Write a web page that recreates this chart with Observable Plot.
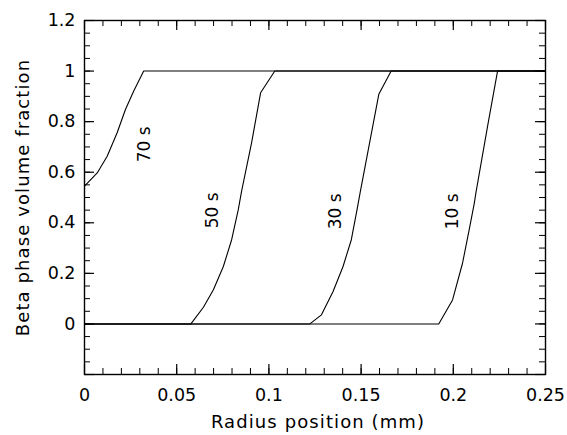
<!DOCTYPE html>
<html>
<head>
<meta charset="utf-8">
<script src="https://cdn.jsdelivr.net/npm/d3@7"></script>
<script src="https://cdn.jsdelivr.net/npm/@observablehq/plot@0.6"></script>
<style>
  html, body { margin: 0; padding: 0; background: #fff; }
</style>
</head>
<body>
<div id="chart"></div>
<script>
// Series (radius in mm, beta-phase volume fraction)
const x10 = [0, 0.1921, 0.1996, 0.2050, 0.2086, 0.2114, 0.2123, 0.2186, 0.2240, 0.25];
const y10 = [0, 0, 0.095, 0.240, 0.372, 0.478, 0.520, 0.782, 1.0, 1.0];

const x30 = [0, 0.1222, 0.1285, 0.1348, 0.1402, 0.1447, 0.1478, 0.1495, 0.1546, 0.1596, 0.1663, 0.25];
const y30 = [0, 0, 0.036, 0.128, 0.227, 0.333, 0.452, 0.520, 0.716, 0.908, 1.0, 1.0];

const x50 = [0, 0.0577, 0.0645, 0.0699, 0.0753, 0.0798, 0.0834, 0.0852, 0.0906, 0.0955, 0.1032, 0.25];
const y50 = [0, 0, 0.066, 0.135, 0.227, 0.333, 0.452, 0.525, 0.716, 0.914, 1.0, 1.0];

const x70 = [0, 0.0069, 0.0123, 0.0177, 0.0222, 0.0267, 0.0321, 0.25];
const y70 = [0.545, 0.597, 0.663, 0.756, 0.848, 0.921, 1.0, 1.0];

const seriesNames = ["10 s", "30 s", "50 s", "70 s"];
const labelX = [0.1998, 0.1364, 0.0697, 0.0325];
const labelY = [0.445, 0.445, 0.449, 0.71];

const xTickValues = [0, 0.05, 0.1, 0.15, 0.2, 0.25];
const xTickLabels = ["0", "0.05", "0.1", "0.15", "0.2", "0.25"];
const xMinorTicks = d3.range(0, 26).map(i => i / 100);
const yTickValues = [0, 0.2, 0.4, 0.6, 0.8, 1, 1.2];
const yTickLabels = ["0", "0.2", "0.4", "0.6", "0.8", "1", "1.2"];
const yMajorTicks = [-0.2, 0, 0.2, 0.4, 0.6, 0.8, 1, 1.2];
const yMinorTicks = d3.range(-4, 25).map(i => i / 20);

const xTitle = "Radius position (mm)";
const yTitle = "Beta phase volume fraction";

const curves = [[x10, y10], [x30, y30], [x50, y50], [x70, y70]];
const lineData = curves.flatMap(([xs, ys], k) =>
  xs.map((x, i) => ({series: seriesNames[k], x, y: ys[i]})));
const labelData = seriesNames.map((name, i) => ({name, x: labelX[i], y: labelY[i]}));

const W = 567, H = 435;
const mTop = 20, mBottom = 61, mLeft = 84, mRight = 22;
const innerH = H - mTop - mBottom;
const innerW = W - mLeft - mRight;
const majorLen = 10, minorLen = 6;

const chart = Plot.plot({
  width: W,
  height: H,
  marginTop: mTop,
  marginBottom: mBottom,
  marginLeft: mLeft,
  marginRight: mRight,
  style: {fontFamily: "DejaVu Sans", fontSize: "17.5px", color: "black", background: "white"},
  x: {domain: [0, 0.25]},
  y: {domain: [-0.2, 1.2]},
  marks: [
    // inward ticks (bottom / top)
    Plot.ruleX(xMinorTicks, {x: d => d, insetTop: innerH - minorLen, stroke: "black", strokeWidth: 1}),
    Plot.ruleX(xMinorTicks, {x: d => d, insetBottom: innerH - minorLen, stroke: "black", strokeWidth: 1}),
    Plot.ruleX(xTickValues, {x: d => d, insetTop: innerH - majorLen, stroke: "black", strokeWidth: 1.2}),
    Plot.ruleX(xTickValues, {x: d => d, insetBottom: innerH - majorLen, stroke: "black", strokeWidth: 1.2}),
    // inward ticks (left / right)
    Plot.ruleY(yMinorTicks, {y: d => d, insetRight: innerW - minorLen, stroke: "black", strokeWidth: 1}),
    Plot.ruleY(yMinorTicks, {y: d => d, insetLeft: innerW - minorLen, stroke: "black", strokeWidth: 1}),
    Plot.ruleY(yMajorTicks, {y: d => d, insetRight: innerW - majorLen, stroke: "black", strokeWidth: 1.2}),
    Plot.ruleY(yMajorTicks, {y: d => d, insetLeft: innerW - majorLen, stroke: "black", strokeWidth: 1.2}),
    Plot.axisX({ticks: xTickValues, tickSize: 0, tickPadding: 14, tickFormat: (d, i) => xTickLabels[i], label: null}),
    Plot.axisY({ticks: yTickValues, tickSize: 0, tickPadding: 9, tickFormat: (d, i) => yTickLabels[i], label: null}),
    Plot.frame({stroke: "black", strokeWidth: 1.4}),
    Plot.line(lineData, {x: "x", y: "y", z: "series", stroke: "black", strokeWidth: 1.1}),
    Plot.text(labelData, {x: "x", y: "y", text: "name", rotate: -90, fontSize: 17, fill: "black"}),
    Plot.text([xTitle], {text: d => d, frameAnchor: "bottom", textAnchor: "middle", dx: 3, dy: 53, fontSize: 18, fill: "black"}),
    Plot.text([yTitle], {text: d => d, frameAnchor: "left", textAnchor: "middle", rotate: -90, dx: -61, fontSize: 18, fill: "black"})
  ]
});
// widen the title lettering like the reference
chart.querySelectorAll("text").forEach(t => {
  if (t.textContent === xTitle || t.textContent === yTitle) t.setAttribute("letter-spacing", "1.1");
});
document.getElementById("chart").appendChild(chart);
</script>
</body>
</html>
